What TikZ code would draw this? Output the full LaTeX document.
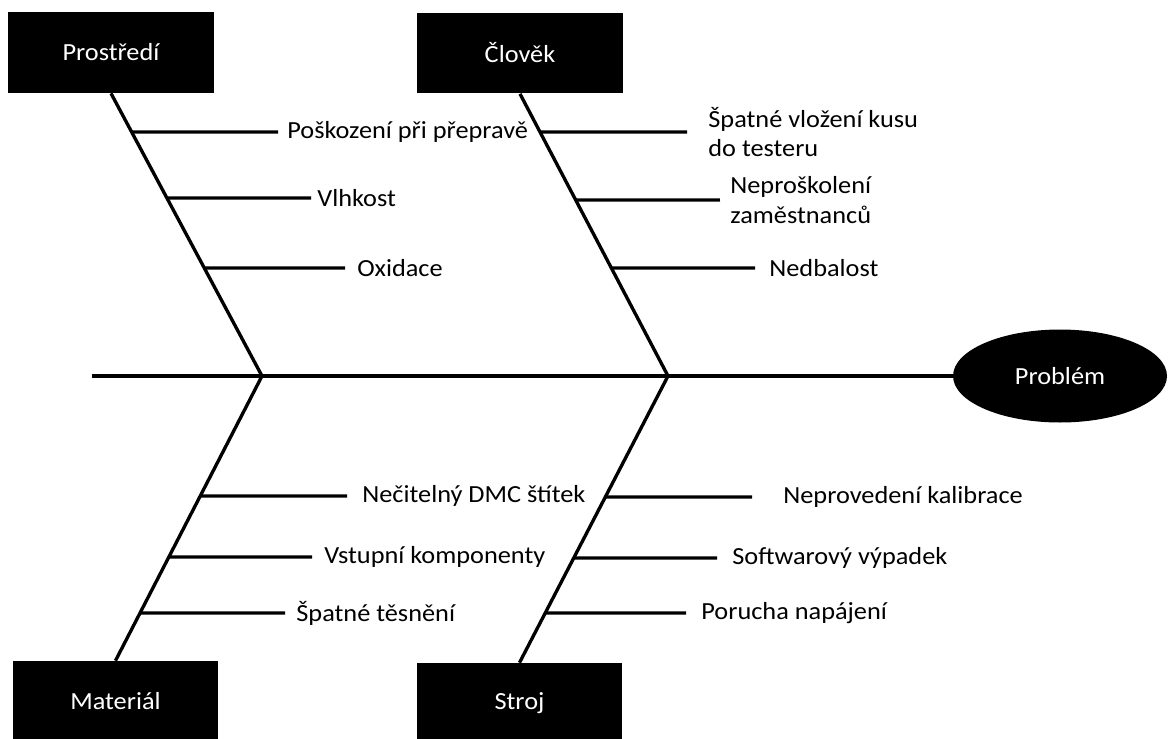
\documentclass[tikz,border=0pt]{standalone}
\usepackage{fontspec}
\setmainfont{Carlito}[FakeStretch=1.07]
\usetikzlibrary{shapes.geometric,positioning}
\tikzset{
  causebox/.style={fill=black, text=white, inner sep=0pt,
    minimum width=4.12cm, minimum height=1.62cm},
  effectbox/.style={ellipse, fill=black, text=white, inner sep=0pt,
    minimum width=4.28cm, minimum height=1.86cm},
  bone/.style={line width=1.9pt},
  twig/.style={line width=1.9pt},
  causelabel/.style={anchor=west, inner sep=0pt, align=left}
}
\begin{document}
\begin{tikzpicture}[x=0.02cm,y=-0.02cm, font=\fontsize{14}{17}\selectfont]
  \useasboundingbox (0,0) rectangle (1168,738);
  \clip (0,0) rectangle (1168,738);
  \node[causebox] (prostredi) at (111,52.5) {Prostředí};
  \node[causebox] (clovek) at (520,53) {Člověk};
  \node[causebox] (material) at (115.5,701.5) {Materiál};
  \node[causebox] (stroj) at (519.5,703.5) {Stroj};
  \node[effectbox] (problem) at (1060,376) {Problém};
  \coordinate (tail) at (92,376);
  \coordinate (jl) at (262,376);
  \coordinate (jr) at (668,376);
  \draw[bone] (tail) -- (problem.west);
  \draw[bone] (prostredi.south) -- (jl) -- (material.north);
  \draw[bone] (clovek.south) -- (jr) -- (stroj.north);

  \node[causelabel] (poskozeni) at (287,132) {Poškození při přepravě};
  \node[causelabel] (vlhkost) at (317,198) {Vlhkost};
  \node[causelabel] (oxidace) at (357,268) {Oxidace};
  \node[causelabel] (vlozeni) at (708,132) {Špatné vložení kusu\\do testeru};
  \node[causelabel] (skoleni) at (730,200) {Neproškolení\\zaměstnanců};
  \node[causelabel] (nedbalost) at (769,268) {Nedbalost};
  \node[causelabel] (dmc) at (362,496) {Nečitelný DMC štítek};
  \node[causelabel] (vstupni) at (324,557) {Vstupní komponenty};
  \node[causelabel] (tesneni) at (296,613) {Špatné těsnění};
  \node[causelabel] (kalibrace) at (783,497) {Neprovedení kalibrace};
  \node[causelabel] (software) at (732,558) {Softwarový výpadek};
  \node[causelabel] (napajeni) at (701,613) {Porucha napájení};

  \draw[twig, shorten >=5pt] (intersection of prostredi.south--jl and poskozeni.west--poskozeni.east) -- (poskozeni.west);
  \draw[twig, shorten >=3.4pt] (intersection of prostredi.south--jl and vlhkost.west--vlhkost.east) -- (vlhkost.west);
  \draw[twig, shorten >=6.8pt] (intersection of prostredi.south--jl and oxidace.west--oxidace.east) -- (oxidace.west);
  \draw[twig, shorten >=11.9pt] (intersection of clovek.south--jr and vlozeni.west--vlozeni.east) -- (vlozeni.west);
  \draw[twig, shorten >=5.7pt] (intersection of clovek.south--jr and skoleni.west--skoleni.east) -- (skoleni.west);
  \draw[twig, shorten >=7.9pt] (intersection of clovek.south--jr and nedbalost.west--nedbalost.east) -- (nedbalost.west);
  \draw[twig, shorten >=8.5pt] (intersection of material.north--jl and dmc.west--dmc.east) -- (dmc.west);
  \draw[twig, shorten >=6.8pt] (intersection of material.north--jl and vstupni.west--vstupni.east) -- (vstupni.west);
  \draw[twig, shorten >=6.2pt] (intersection of material.north--jl and tesneni.west--tesneni.east) -- (tesneni.west);
  \draw[twig, shorten >=17.6pt] (intersection of stroj.north--jr and kalibrace.west--kalibrace.east) -- (kalibrace.west);
  \draw[twig, shorten >=8.5pt] (intersection of stroj.north--jr and software.west--software.east) -- (software.west);
  \draw[twig, shorten >=8.5pt] (intersection of stroj.north--jr and napajeni.west--napajeni.east) -- (napajeni.west);
\end{tikzpicture}
\end{document}
